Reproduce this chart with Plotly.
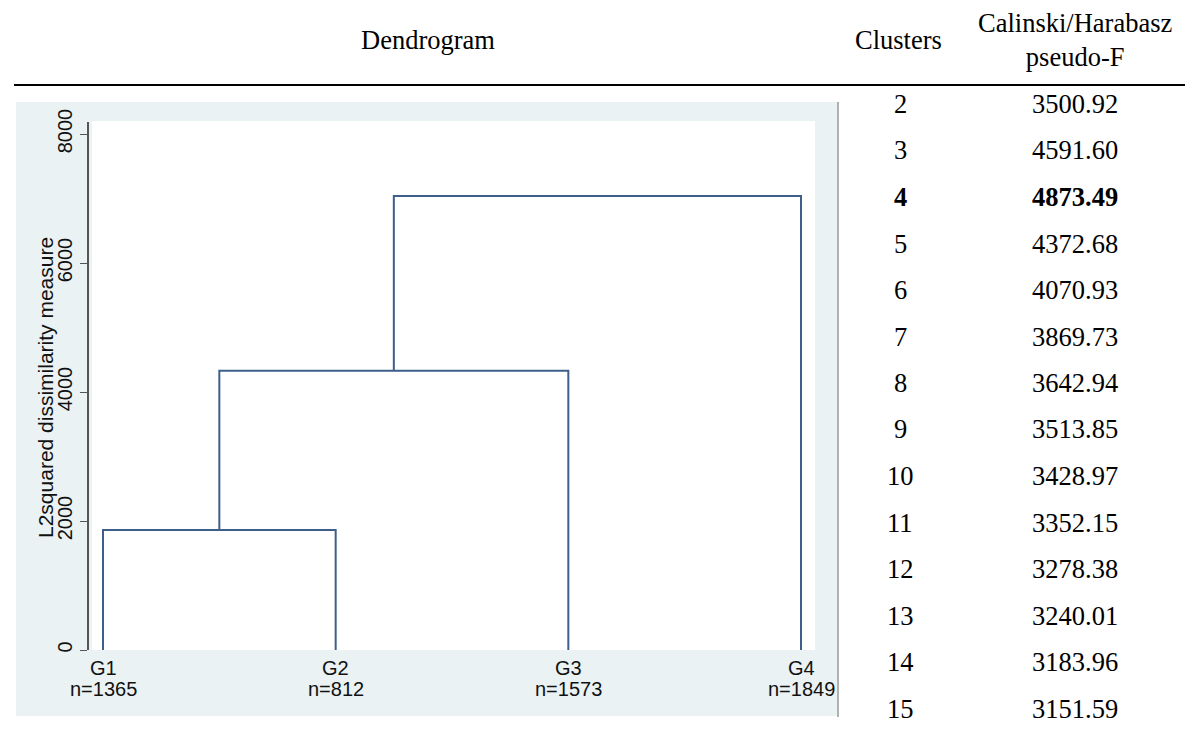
import plotly.graph_objects as go

# ---- data ----
leaf_labels = ["G1", "G2", "G3", "G4"]
leaf_sizes = [1365, 812, 1573, 1849]
# merges: (left node, right node, height); nodes 0-3 leaves, 4+ merged clusters
merge_left = [0, 4, 5]
merge_right = [1, 2, 3]
merge_height = [1860, 4330, 7040]

y_ticks = [0, 2000, 4000, 6000, 8000]

clusters = [2, 3, 4, 5, 6, 7, 8, 9, 10, 11, 12, 13, 14, 15]
pseudo_f = [3500.92, 4591.60, 4873.49, 4372.68, 4070.93, 3869.73, 3642.94,
            3513.85, 3428.97, 3352.15, 3278.38, 3240.01, 3183.96, 3151.59]
best_k = 4

W, H = 1187, 734
def px(x):
    return x / W
def py(y):
    return 1 - y / H

LINE = "#3E5F8A"
GRAY = "#EAF2F3"
SERIF = "Liberation Serif, Times New Roman, serif"
SANS = "Liberation Sans, Arial, sans-serif"
TFS = 26.5

fig = go.Figure()

# dendrogram segments
node_x = {i: i + 1 for i in range(len(leaf_labels))}
node_h = {i: 0 for i in range(len(leaf_labels))}
xs, ys = [], []
for k, (a, b, h) in enumerate(zip(merge_left, merge_right, merge_height)):
    xa, xb = node_x[a], node_x[b]
    ha, hb = node_h[a], node_h[b]
    xs += [xa, xa, xb, xb, None]
    ys += [ha, h, h, hb, None]
    nid = len(leaf_labels) + k
    node_x[nid] = (xa + xb) / 2
    node_h[nid] = h

fig.add_trace(go.Scatter(x=xs, y=ys, mode="lines",
                         line=dict(color=LINE, width=2),
                         hoverinfo="skip", showlegend=False))

shapes = [
    dict(type="rect", xref="paper", yref="paper", x0=px(16), x1=px(837), y0=py(716), y1=py(102),
         fillcolor=GRAY, line=dict(width=0), layer="below"),
    dict(type="rect", xref="paper", yref="paper", x0=px(92), x1=px(815), y0=py(650), y1=py(121),
         fillcolor="white", line=dict(width=0), layer="below"),
    dict(type="line", xref="paper", yref="paper", x0=px(838), x1=px(838), y0=py(717), y1=py(102),
         line=dict(color="#B0B0B0", width=2)),
    dict(type="line", xref="paper", yref="paper", x0=px(14), x1=px(1185), y0=py(85), y1=py(85),
         line=dict(color="black", width=2)),
]

def ann(text, x, y, font, xref="paper", **kw):
    d = dict(text=text, x=x, y=y, xref=xref, yref="paper", showarrow=False,
             xanchor="center", yanchor="middle", font=font)
    d.update(kw)
    return d

def serif(size=TFS):
    return dict(family=SERIF, size=size, color="black")

annotations = [
    ann("Dendrogram", px(428), py(40), serif()),
    ann("Clusters", px(898), py(40), serif()),
    ann("Calinski/Harabasz<br>pseudo-F", px(1075), py(40), serif()),
]
row0, step = 104, 46.5
for i, (k, f) in enumerate(zip(clusters, pseudo_f)):
    yy = py(row0 + i * step)
    t1, t2 = str(k), f"{f:.2f}"
    if k == best_k:
        t1, t2 = f"<b>{t1}</b>", f"<b>{t2}</b>"
    annotations.append(ann(t1, px(900), yy, serif()))
    annotations.append(ann(t2, px(1075), yy, serif()))

# leaf labels
sans = dict(family=SANS, size=20, color="#111111")
for i, (g, n) in enumerate(zip(leaf_labels, leaf_sizes)):
    annotations.append(ann(g, i + 1, py(668), sans, xref="x"))
    annotations.append(ann(f"n={n}", i + 1, py(689), sans, xref="x"))

annotations.append(ann("L2squared dissimilarity measure", px(45), py(388),
                       dict(family=SANS, size=21, color="#111111"), textangle=-90))

y_top = 8000 + (134 - 122) / (650 - 134) * 8000
unit = (801 - 103) / 3
x_lo = 1 - (103 - 89) / unit
x_hi = 4 + (815 - 801) / unit

fig.update_layout(
    width=W, height=H,
    margin=dict(l=0, r=0, t=0, b=0, autoexpand=False),
    paper_bgcolor="white", plot_bgcolor="rgba(0,0,0,0)",
    shapes=shapes, annotations=annotations,
    xaxis=dict(domain=[px(89), px(815)], range=[x_lo, x_hi], automargin=False,
               showticklabels=False, showline=False, showgrid=False, zeroline=False, ticks=""),
    yaxis=dict(domain=[py(650), py(122)], range=[0, y_top], automargin=False,
               tickvals=y_ticks, tickangle=-90,
               showline=True, linecolor="#555555", linewidth=1.5,
               ticks="outside", ticklen=7, tickcolor="#555555",
               showgrid=False, zeroline=False,
               tickfont=dict(family=SANS, size=20, color="#111111")),
    showlegend=False,
)

fig.write_html("out.html", config={"displayModeBar": False},
               post_script="document.body.style.margin='0';")
